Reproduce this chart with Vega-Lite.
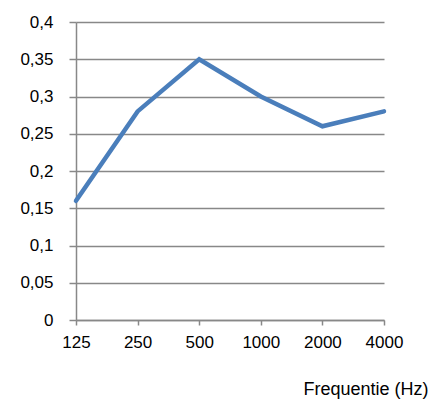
{
  "$schema": "https://vega.github.io/schema/vega-lite/v6.json",
  "width": 308,
  "height": 298,
  "autosize": "none",
  "padding": {"left": 76, "top": 22, "right": 46, "bottom": 81},
  "background": "white",
  "config": {
    "view": {"stroke": null},
    "font": "Liberation Sans",
    "locale": {"number": {"decimal": ",", "thousands": ".", "grouping": [3], "currency": ["", " €"]}}
  },
  "data": {
    "values": [
      {"freq": "125", "value": 0.16},
      {"freq": "250", "value": 0.28},
      {"freq": "500", "value": 0.35},
      {"freq": "1000", "value": 0.30},
      {"freq": "2000", "value": 0.26},
      {"freq": "4000", "value": 0.28}
    ]
  },
  "mark": {"type": "line", "color": "#4a7ebb", "strokeWidth": 4.5, "strokeCap": "round", "strokeJoin": "miter"},
  "encoding": {
    "x": {
      "field": "freq",
      "type": "ordinal",
      "sort": null,
      "scale": {"type": "point", "padding": 0},
      "axis": {
        "title": "Frequentie (Hz)",
        "titleFont": "Liberation Sans",
        "titleFontSize": 18,
        "titleFontWeight": "normal",
        "titleColor": "#000",
        "titleAlign": "right",
        "titleAnchor": null,
        "titleX": 352,
        "titleY": 74,
        "titleBaseline": "alphabetic",
        "labelAngle": 0,
        "labelFontSize": 17,
        "labelColor": "#000",
        "labelPadding": 9,
        "tickColor": "#888",
        "tickSize": 5,
        "tickWidth": 1.5,
        "domainColor": "#888",
        "domainWidth": 1.5,
        "grid": false
      }
    },
    "y": {
      "field": "value",
      "type": "quantitative",
      "scale": {"domain": [0, 0.4], "nice": false},
      "axis": {
        "title": null,
        "values": [0, 0.05, 0.1, 0.15, 0.2, 0.25, 0.3, 0.35, 0.4],
        "format": "~g",
        "labelFontSize": 17,
        "labelColor": "#000",
        "labelPadding": 16,
        "tickColor": "#888",
        "tickSize": 7,
        "tickWidth": 1.5,
        "domainColor": "#888",
        "domainWidth": 1.5,
        "gridColor": "#888",
        "gridWidth": 1.5,
        "gridOpacity": 1
      }
    }
  }
}
